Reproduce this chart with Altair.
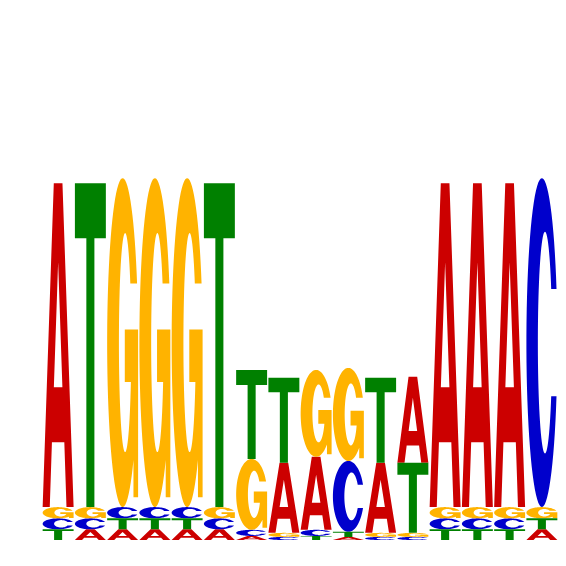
import altair as alt
import numpy as np

# information content (bits) of each base at positions 1..16
positions = list(range(1, 17))
bits_A = [1.27, 0.042, 0.042, 0.042, 0.042, 0.042, 0.016, 0.275, 0.286, 0.012, 0.275, 0.337, 1.27, 1.27, 1.27, 0.042]
bits_C = [0.043, 0.043, 0.044, 0.044, 0.044, 0.043, 0.024, 0.012, 0.024, 0.278, 0.012, 0.012, 0.043, 0.043, 0.043, 1.29]
bits_G = [0.044, 0.044, 1.29, 1.29, 1.29, 0.044, 0.278, 0.016, 0.341, 0.365, 0.016, 0.016, 0.044, 0.044, 0.044, 0.044]
bits_T = [0.042, 1.27, 0.043, 0.043, 0.043, 1.27, 0.349, 0.333, 0.016, 0.020, 0.333, 0.275, 0.042, 0.042, 0.042, 0.043]

bases = ["A", "C", "G", "T"]
base_colors = ["#CC0000", "#0000CC", "#FFB300", "#008000"]


# letter outlines in a unit box (x right, y up)
def arc(cx, cy, rx, ry, a0, a1, n=70):
    t = np.radians(np.linspace(a0, a1, n))
    return list(zip(cx + rx * np.cos(t), cy + ry * np.sin(t)))


glyph_A = [(0, 0), (0.23, 0), (0.30, 0.20), (0.362, 0.37), (0.5, 0.756), (0.638, 0.37),
           (0.362, 0.37), (0.30, 0.20), (0.70, 0.20), (0.77, 0), (1, 0), (0.64, 1), (0.36, 1), (0, 0)]

glyph_T = [(0, 1), (1, 1), (1, 0.83), (0.63, 0.83), (0.63, 0), (0.37, 0), (0.37, 0.83), (0, 0.83), (0, 1)]

ao = np.degrees(np.arcsin(0.163 / 0.5))
ai = np.degrees(np.arcsin(0.163 / 0.337))
glyph_C = arc(0.5, 0.5, 0.5, 0.5, ao, 360 - ao) + arc(0.6, 0.5, 0.23, 0.337, 360 - ai, ai)
glyph_C.append(glyph_C[0])

go = np.degrees(np.arcsin(0.18 / 0.5))
gi = np.degrees(np.arcsin(0.18 / 0.333))
gb = np.degrees(np.arcsin(0.12 / 0.333))
glyph_G = (arc(0.5, 0.5, 0.5, 0.5, go, 360 - np.degrees(np.arccos(0.7)))
           + [(0.85, 0.03), (1, 0.03), (1, 0.54), (0.57, 0.54), (0.57, 0.38)]
           + arc(0.58, 0.5, 0.2, 0.333, 360 - gb, gi))
glyph_G.append(glyph_G[0])

glyphs = {"A": glyph_A, "C": glyph_C, "G": glyph_G, "T": glyph_T}

rows = []
for i, pos in enumerate(positions):
    for b, arr in zip(bases, [bits_A, bits_C, bits_G, bits_T]):
        g = glyphs[b]
        rows.append({
            "pos": pos,
            "base": b,
            "bits": arr[i],
            "gx": [round(float(p[0]), 4) for p in g],
            "gy": [round(float(p[1]), 4) for p in g],
            "k": list(range(len(g))),
        })

chart = (
    alt.Chart(alt.Data(values=rows))
    .transform_stack(stack="bits", as_=["y0", "y1"], groupby=["pos"],
                     sort=[alt.SortField("bits", order="ascending")])
    .transform_flatten(["gx", "gy", "k"])
    .transform_calculate(
        px="datum.pos - 0.48 + 0.96 * datum.gx",
        py="datum.y0 + datum.gy * (datum.y1 - datum.y0)",
        key="datum.pos + '-' + datum.base",
    )
    .mark_line(filled=True, interpolate="linear", opacity=1)
    .encode(
        x=alt.X("px:Q", scale=alt.Scale(domain=[0.5, 16.5], nice=False, zero=False), axis=None),
        y=alt.Y("py:Q", scale=alt.Scale(domain=[0, 2], nice=False), axis=None),
        color=alt.Color("base:N", scale=alt.Scale(domain=bases, range=base_colors), legend=None),
        detail="key:N",
        order="k:Q",
    )
    .properties(width=516, height=510, autosize=alt.AutoSizeParams(type="none"),
                padding={"left": 34, "top": 22, "right": 0, "bottom": 0})
    .configure_view(stroke=None)
)

chart.save("out.html", embed_options={"renderer": "svg", "actions": False})
